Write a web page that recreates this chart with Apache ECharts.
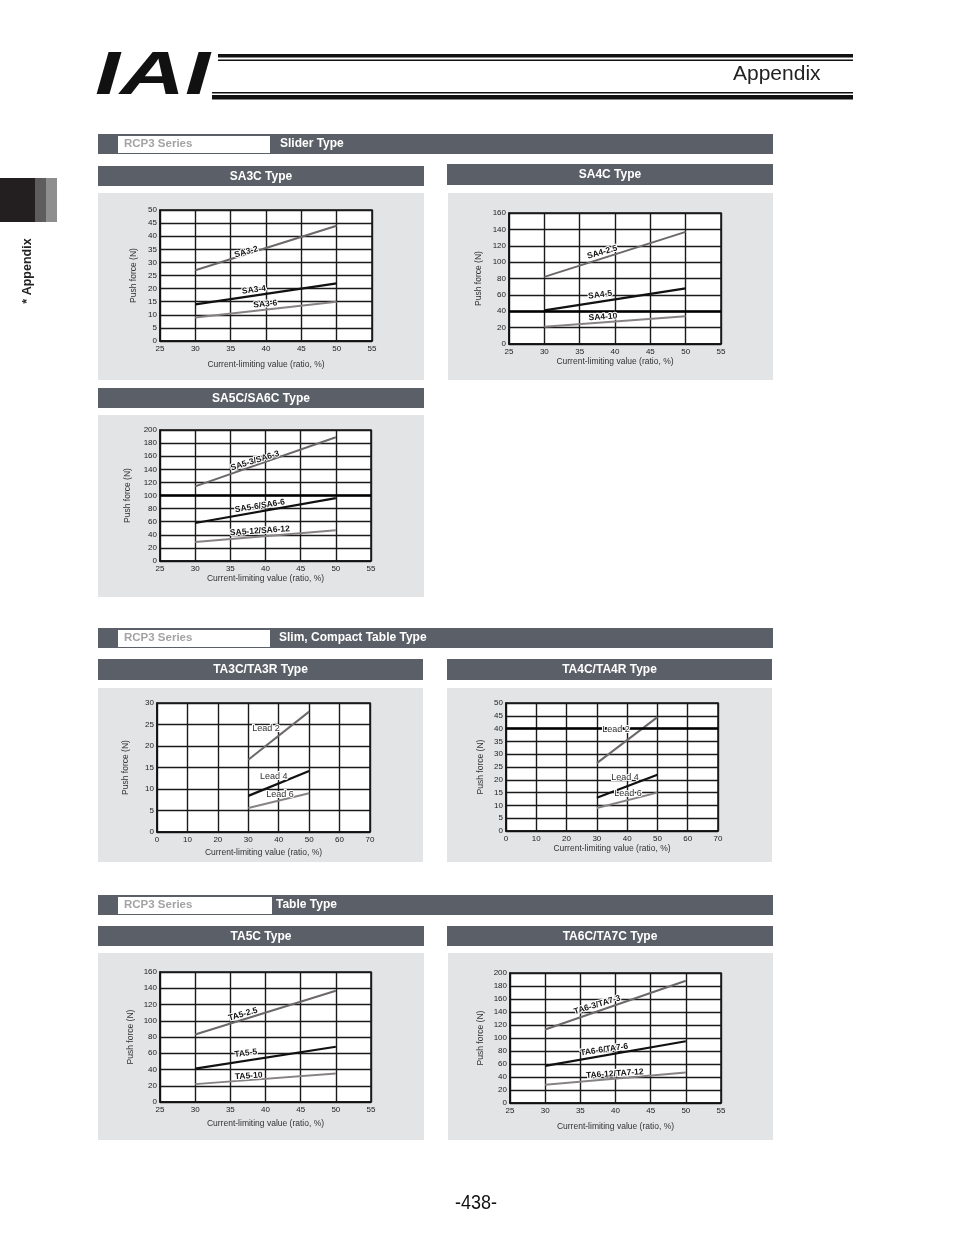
<!DOCTYPE html>
<html>
<head>
<meta charset="utf-8">
<script src="https://cdn.jsdelivr.net/npm/echarts@6/dist/echarts.min.js"></script>
<style>
html,body{margin:0;padding:0;background:#fff;}
#c{width:954px;height:1235px;}
</style>
</head>
<body>
<div id="c"></div>
<script>
// ---------- DATA ----------
const xCurrent = [30, 50];

const SA3C_names = ['SA3-2', 'SA3-4', 'SA3-6'];
const SA3C_2 = [27, 44];
const SA3C_4 = [14, 22];
const SA3C_6 = [9, 15];

const SA4C_names = ['SA4-2.5', 'SA4-5', 'SA4-10'];
const SA4C_25 = [82, 137];
const SA4C_5 = [41, 68];
const SA4C_10 = [21, 34];

const SA5C_names = ['SA5-3/SA6-3', 'SA5-6/SA6-6', 'SA5-12/SA6-12'];
const SA5C_3 = [114, 189];
const SA5C_6 = [58, 96];
const SA5C_12 = [29, 47];

const TA3C_names = ['Lead 2', 'Lead 4', 'Lead 6'];
const TA3C_2 = [16.8, 28];
const TA3C_4 = [8.4, 14.2];
const TA3C_6 = [5.6, 9];

const TA4C_names = ['Lead 2', 'Lead 4', 'Lead 6'];
const TA4C_2 = [26.5, 44.5];
const TA4C_4 = [13, 22];
const TA4C_6 = [9, 15];

const TA5C_names = ['TA5-2.5', 'TA5-5', 'TA5-10'];
const TA5C_25 = [83, 137];
const TA5C_5 = [41, 68];
const TA5C_10 = [22, 35];

const TA6C_names = ['TA6-3/TA7-3', 'TA6-6/TA7-6', 'TA6-12/TA7-12'];
const TA6C_3 = [113, 188];
const TA6C_6 = [57, 95];
const TA6C_12 = [28, 47];

// axis ranges (tick labels come from these)
const xRangeA = {min: 25, max: 55, interval: 5};
const xRangeB = {min: 0, max: 70, interval: 10};

// label anchor positions (data coords) and angles
const labelPos = {
  SA3C: [[37.2, 34, 16], [38.3, 19.5, 7], [39.9, 14.1, 5]],
  SA4C: [[38.2, 112, 16], [37.9, 60, 8], [38.3, 33, 4]],
  SA5C: [[38.5, 153, 17], [39.2, 84, 9], [39.2, 46, 4]],
  TA3C: [[35.8, 24, 0], [38.4, 13, 0], [40.4, 8.8, 0]],
  TA4C: [[36.3, 39.5, 0], [39.3, 20.7, 0], [40.3, 14.5, 0]],
  TA5C: [[36.8, 108, 16], [37.2, 60, 7], [37.6, 32, 4]],
  TA6C: [[37.4, 151, 17], [38.4, 82, 8], [39.9, 45, 4]]
};

// ---------- LAYOUT ----------
const FONT = 'Liberation Sans, Arial, sans-serif';
const charts = [
  {key:'SA3C', grid:{left:160, top:210, width:212, height:131}, xr:xRangeA, y:{max:50, interval:5}, yGap:22, xGap:19,
   names:SA3C_names, data:[SA3C_2, SA3C_4, SA3C_6], bold:true, thick:null},
  {key:'SA4C', grid:{left:509, top:213, width:212, height:131}, xr:xRangeA, y:{max:160, interval:20}, yGap:26, xGap:12,
   names:SA4C_names, data:[SA4C_25, SA4C_5, SA4C_10], bold:true, thick:40},
  {key:'SA5C', grid:{left:160, top:430, width:211, height:131}, xr:xRangeA, y:{max:200, interval:20}, yGap:28, xGap:12,
   names:SA5C_names, data:[SA5C_3, SA5C_6, SA5C_12], bold:true, thick:100},
  {key:'TA3C', grid:{left:157, top:703, width:213, height:129}, xr:xRangeB, y:{max:30, interval:5}, yGap:27, xGap:16,
   names:TA3C_names, data:[TA3C_2, TA3C_4, TA3C_6], bold:false, thick:null},
  {key:'TA4C', grid:{left:506, top:703, width:212, height:128}, xr:xRangeB, y:{max:50, interval:5}, yGap:21, xGap:12,
   names:TA4C_names, data:[TA4C_2, TA4C_4, TA4C_6], bold:false, thick:40},
  {key:'TA5C', grid:{left:160, top:972, width:211, height:130}, xr:xRangeA, y:{max:160, interval:20}, yGap:25, xGap:17,
   names:TA5C_names, data:[TA5C_25, TA5C_5, TA5C_10], bold:true, thick:null},
  {key:'TA6C', grid:{left:510, top:973, width:211, height:130}, xr:xRangeA, y:{max:200, interval:20}, yGap:25, xGap:19,
   names:TA6C_names, data:[TA6C_3, TA6C_6, TA6C_12], bold:true, thick:null}
];

const lineColors = ['#6c676b', '#111111', '#878286'];
const lineWidths = [2, 2.2, 2];

const grids = [], xAxes = [], yAxes = [], series = [];
charts.forEach((c, i) => {
  grids.push(Object.assign({show:true, backgroundColor:'#fff', borderColor:'#111', borderWidth:1.5}, c.grid));
  xAxes.push({
    type:'value', gridIndex:i, min:c.xr.min, max:c.xr.max, interval:c.xr.interval,
    name:'Current-limiting value (ratio, %)', nameLocation:'middle', nameGap:c.xGap,
    nameTextStyle:{fontFamily:FONT, fontSize:8.5, color:'#333'},
    axisLine:{show:true, lineStyle:{color:'#111', width:1.5}},
    axisTick:{show:false},
    axisLabel:{fontFamily:FONT, fontSize:8, color:'#222', margin:4},
    splitLine:{show:true, lineStyle:{color:'#1a1a1a', width:1.4}}
  });
  yAxes.push({
    type:'value', gridIndex:i, min:0, max:c.y.max, interval:c.y.interval,
    name:'Push force (N)', nameLocation:'middle', nameGap:c.yGap,
    nameTextStyle:{fontFamily:FONT, fontSize:8.5, color:'#333'},
    axisLine:{show:true, lineStyle:{color:'#111', width:1.5}},
    axisTick:{show:false},
    axisLabel:{fontFamily:FONT, fontSize:8, color:'#222', margin:3},
    splitLine:{show:true, lineStyle:{color:'#1a1a1a', width:1.4}}
  });
  c.data.forEach((vals, k) => {
    const lp = labelPos[c.key][k];
    const s = {
      type:'line', xAxisIndex:i, yAxisIndex:i, name:c.names[k],
      data: xCurrent.map((x, j) => [x, vals[j]]),
      showSymbol:false, symbol:'none', silent:true, z:3,
      lineStyle:{color:lineColors[k], width:lineWidths[k]},
      markPoint:{
        symbol:'rect', symbolSize:1, silent:true,
        itemStyle:{color:'rgba(0,0,0,0)'},
        data:[{coord:[lp[0], lp[1]], value:c.names[k]}],
        label:{
          show:true, position:'inside', formatter:c.names[k], rotate:lp[2],
          fontFamily:FONT, fontSize:c.bold ? 8.5 : 9, fontWeight:c.bold ? 'bold' : 'normal',
          color:c.bold ? '#151515' : '#333', textBorderColor:'#fff', textBorderWidth:2
        }
      }
    };
    if (k === 0 && c.thick !== null) {
      s.markLine = {symbol:'none', silent:true, label:{show:false},
        lineStyle:{color:'#000', width:2.6, type:'solid'}, data:[{yAxis:c.thick}]};
    }
    series.push(s);
  });
});

// ---------- DECORATION ----------
const BAR = '#5b6068';
const PANEL = '#e3e4e6';
const g = [];
function rect(x, y, w, h, fill, z) { g.push({type:'rect', z:z === undefined ? -10 : z, shape:{x:x, y:y, width:w, height:h}, style:{fill:fill}}); }
function text(x, y, t, font, fill, align, extra) {
  g.push(Object.assign({type:'text', z:5, x:x, y:y, style:{text:t, font:font, fill:fill, textAlign:align || 'left', textVerticalAlign:'middle'}}, extra || {}));
}

// header
text(95, 77, 'IAI', 'italic 900 62px ' + FONT, '#111', 'left', {scaleX:1.45, originX:0, originY:0});
rect(218, 54, 635, 3.5, '#111', 1);
rect(218, 59.5, 635, 1.5, '#111', 1);
rect(212, 92, 641, 1.5, '#111', 1);
rect(212, 95, 641, 4.5, '#111', 1);
text(733, 74, 'Appendix', '21px ' + FONT, '#222', 'left');

// side tab
rect(0, 178, 35, 44, '#231f20', 1);
rect(35, 178, 11, 44, '#5d5d5d', 1);
rect(46, 178, 11, 44, '#8e8e8e', 1);
text(28, 271, '* Appendix', 'bold 12.5px ' + FONT, '#222', 'center', {rotation:Math.PI / 2, originX:0, originY:0});

// sections
function section(y, title, boxW, titleX) {
  rect(98, y, 675, 20, BAR, 1);
  rect(118, y + 2, boxW, 17, '#fff', 2);
  text(124, y + 9.5, 'RCP3 Series', 'bold 11.5px ' + FONT, '#a3a3a3', 'left');
  text(titleX, y + 9.5, title, 'bold 12px ' + FONT, '#fff', 'left');
}
section(134, 'Slider Type', 152, 280);
section(628, 'Slim, Compact Table Type', 152, 279);
section(895, 'Table Type', 154, 276);

function titleBar(x, y, w, h, t) {
  rect(x, y, w, h, BAR, 1);
  text(x + w / 2, y + h / 2 + 0.5, t, 'bold 12px ' + FONT, '#fff', 'center');
}
titleBar(98, 166, 326, 20, 'SA3C Type');
titleBar(447, 164, 326, 21, 'SA4C Type');
titleBar(98, 388, 326, 20, 'SA5C/SA6C Type');
titleBar(98, 659, 325, 21, 'TA3C/TA3R Type');
titleBar(447, 659, 325, 21, 'TA4C/TA4R Type');
titleBar(98, 926, 326, 20, 'TA5C Type');
titleBar(447, 926, 326, 20, 'TA6C/TA7C Type');

// panels
rect(98, 193, 326, 187, PANEL);
rect(448, 193, 325, 187, PANEL);
rect(98, 415, 326, 182, PANEL);
rect(98, 688, 325, 174, PANEL);
rect(447, 688, 325, 174, PANEL);
rect(98, 953, 326, 187, PANEL);
rect(448, 953, 325, 187, PANEL);

// page number
text(476, 1204, '-438-', '18px Liberation Sans Narrow, ' + FONT, '#111', 'center', {scaleY:1.1, originX:0, originY:0});

const chart = echarts.init(document.getElementById('c'), null, {renderer:'canvas'});
chart.setOption({
  animation:false,
  backgroundColor:'#fff',
  textStyle:{fontFamily:FONT},
  grid:grids, xAxis:xAxes, yAxis:yAxes, series:series,
  graphic:{elements:g}
});
</script>
</body>
</html>
